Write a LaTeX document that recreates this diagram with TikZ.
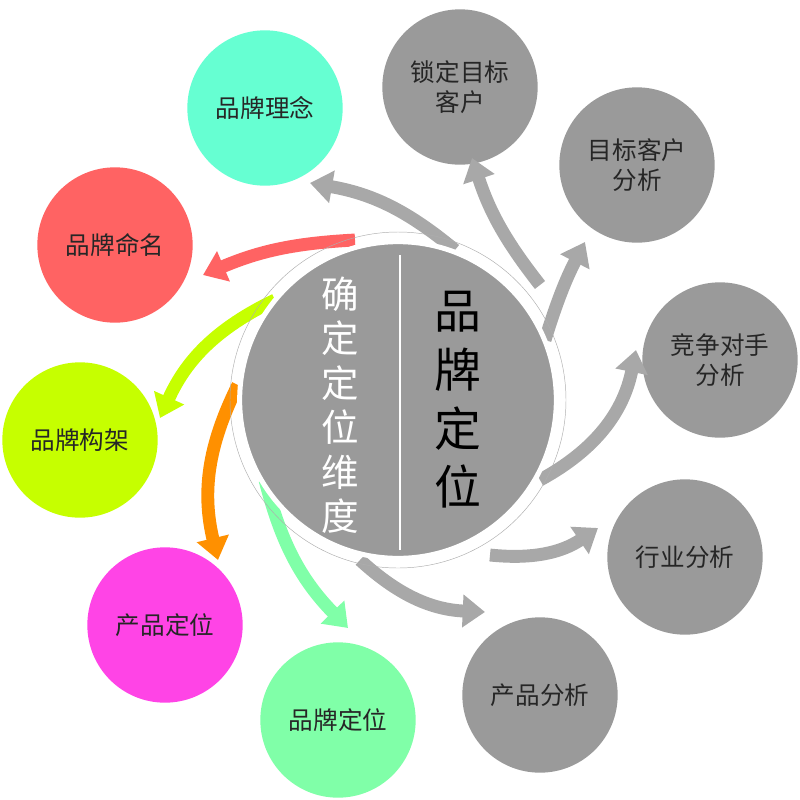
\documentclass[tikz,border=0pt]{standalone}
\usepackage{fontspec}
\setmainfont{Noto Sans CJK SC}
\usetikzlibrary{arrows.meta}
\definecolor{cgray}{HTML}{9A9A9A}
\definecolor{cteal}{HTML}{66FFD2}
\definecolor{cred}{HTML}{FF6363}
\definecolor{clime}{HTML}{C6FF00}
\definecolor{cmag}{HTML}{FF44E6}
\definecolor{cgreen}{HTML}{80FFA8}
\definecolor{corange}{HTML}{FF9000}
\definecolor{carrgray}{HTML}{A8A8A8}
\newlength{\pxu}\setlength{\pxu}{0.85pt}
\tikzset{
  item/.style={circle,fill=#1,minimum size=156\pxu,inner sep=0pt,align=center,
    font=\fontsize{21}{26}\selectfont,text=black!85},
  flow/.style={draw=#1,line width=11pt,-{Triangle[width=27pt,length=19pt]}},
}
\begin{document}
\begin{tikzpicture}[x=0.03cm,y=-0.03cm]
  \useasboundingbox (0,0) rectangle (800,799);
  % outer circles
  \node[item=cgray] (kehu) at (460,87) {锁定目标\\客户};
  \node[item=cgray] (mbfx) at (637,165) {目标客户\\分析};
  \node[item=cgray] (jzfx) at (720,360) {竞争对手\\分析};
  \node[item=cgray] (hyfx) at (685,557) {行业分析};
  \node[item=cgray] (cpfx) at (540,695) {产品分析};
  \node[item=cgreen] (ppdw) at (338,720) {品牌定位};
  \node[item=cmag] (cpdw) at (165,625) {产品定位};
  \node[item=clime] (ppgj) at (80,440) {品牌构架};
  \node[item=cred] (ppmm) at (115,245) {品牌命名};
  \node[item=cteal] (ppln) at (265,108) {品牌理念};
  % arrows
  \coordinate (s1) at (455,250); \coordinate (e1) at (310,183);
  \coordinate (s2) at (540,285); \coordinate (e2) at (472,158);
  \coordinate (s3) at (545,340); \coordinate (e3) at (585,242);
  \coordinate (s4) at (540,480); \coordinate (e4) at (636,350);
  \coordinate (s5) at (490,555); \coordinate (e5) at (598,528);
  \coordinate (s6) at (360,560); \coordinate (e6) at (485,612);
  \coordinate (s7) at (265,480); \coordinate (e7) at (348,628);
  \coordinate (s8) at (238,385); \coordinate (e8) at (218,560);
  \coordinate (s9) at (275,300); \coordinate (e9) at (160,418);
  \coordinate (s10) at (355,240); \coordinate (e10) at (203,275);
  \draw[flow=carrgray] (s1) to[bend right=15] (e1);
  \draw[flow=carrgray] (s2) to[bend left=10] (e2);
  \draw[flow=carrgray] (s3) to[bend left=5] (e3);
  \draw[flow=carrgray] (s4) to[bend right=25] (e4);
  \draw[flow=carrgray] (s5) to[bend right=20] (e5);
  \draw[flow=carrgray] (s6) to[bend right=20] (e6);
  \draw[flow=cgreen] (s7) to[bend right=15] (e7);
  \draw[flow=corange] (s8) to[bend right=20] (e8);
  \draw[flow=clime] (s9) to[bend right=20] (e9);
  \draw[flow=cred] (s10) to[bend right=10] (e10);
  % centre
  \draw[cgray!80,thin] (398,400) circle (168);
  \node[circle,fill=cgray,draw=white,line width=5\pxu,minimum size=318\pxu,inner sep=0pt] (core) at (398,400) {};
  \draw[white,line width=2\pxu] (400,255) -- (400,550);
  \node[align=center,font=\fontsize{32}{38}\selectfont,text=white] (left) at (340,405) {确\\定\\定\\位\\维\\度};
  \node[align=center,font=\fontsize{40}{50}\selectfont,text=black] (right) at (458,400) {品\\牌\\定\\位};
\end{tikzpicture}
\end{document}
